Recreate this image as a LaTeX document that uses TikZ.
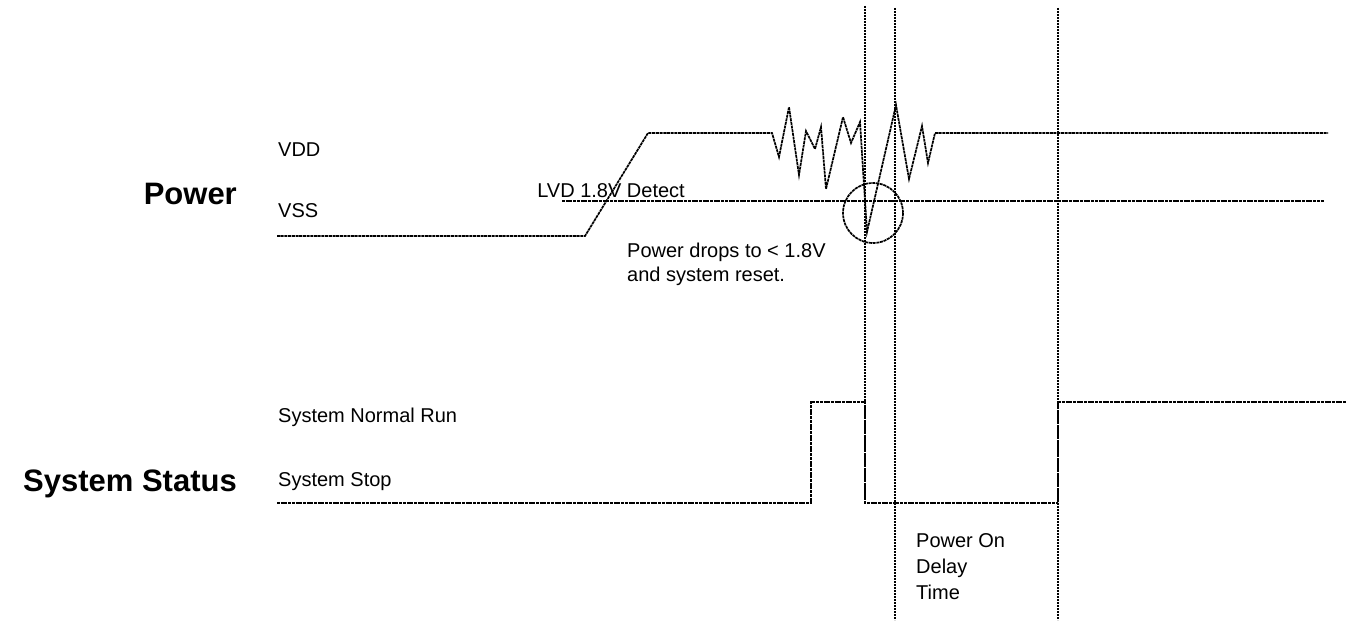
\documentclass[tikz,border=0pt]{standalone}
\usepackage{fontspec}
\setmainfont{Liberation Sans}
\begin{document}
\begin{tikzpicture}[x=1pt,y=-1pt,
  wave/.style={line width=1.7pt, dash pattern=on 3pt off 0.7pt},
  vline/.style={line width=2pt, dash pattern=on 2.2pt off 0.8pt},
  lbl/.style={inner sep=0pt, font=\fontsize{20}{24}\selectfont, anchor=base west},
  ttl/.style={inner sep=0pt, font=\fontsize{31}{36}\selectfont\bfseries, anchor=base east}]
\useasboundingbox (0,0) rectangle (1358,626);
% titles
\node[ttl] (power) at (237,204) {Power};
\node[ttl] (status) at (237,491) {System Status};
% labels
\node[lbl] (vdd) at (278,156) {VDD};
\node[lbl] (vss) at (278,217) {VSS};
\node[lbl, anchor=base east] (lvd) at (685,197) {LVD 1.8V Detect};
\node[lbl] (drop1) at (627,257) {Power drops to < 1.8V};
\node[lbl] (drop2) at (627,281) {and system reset.};
\node[lbl] (run) at (278,422) {System Normal Run};
\node[lbl] (stop) at (278,486) {System Stop};
\node[lbl] (pod1) at (916,547) {Power On};
\node[lbl] (pod2) at (916,573) {Delay};
\node[lbl] (pod3) at (916,599) {Time};
% LVD threshold line
\coordinate (lvdA) at (562,201);
\coordinate (lvdB) at (1324,201);
\draw[wave] (lvdA) -- (lvdB);
% power waveform
\coordinate (p0) at (277,236);
\coordinate (p1) at (585,236);
\coordinate (p2) at (648,133);
\coordinate (p3) at (772,133);
\coordinate (pend) at (1328,133);
\draw[wave] (p0) -- (p1) -- (p2) -- (p3)
  -- (779,157) -- (789,107) -- (799,175) -- (806,131) -- (815,149)
  -- (821,127) -- (826,189) -- (843,117) -- (851,143) -- (860,122)
  -- (867,232) -- (896,105) -- (909,179) -- (922,126) -- (928,163)
  -- (935,133) -- (pend);
% reset circle
\coordinate (cc) at (873,213);
\draw[wave] (cc) circle[radius=30];
% vertical markers
\coordinate (v1t) at (865,6);
\coordinate (v1b) at (865,503);
\coordinate (v2t) at (895,8);
\coordinate (v2b) at (895,620);
\coordinate (v3t) at (1058,8);
\coordinate (v3b) at (1058,620);
\draw[vline] (v1t) -- (v1b);
\draw[vline] (v2t) -- (v2b);
\draw[vline] (v3t) -- (v3b);
% status waveform
\coordinate (s0) at (277,503);
\coordinate (s1) at (811,503);
\coordinate (s2) at (811,402);
\coordinate (s3) at (865,402);
\coordinate (s4) at (865,503);
\coordinate (s5) at (1058,503);
\coordinate (s6) at (1058,402);
\coordinate (s7) at (1346,402);
\draw[wave] (s0) -- (s1) -- (s2) -- (s3) -- (s4) -- (s5) -- (s6) -- (s7);
\end{tikzpicture}
\end{document}
